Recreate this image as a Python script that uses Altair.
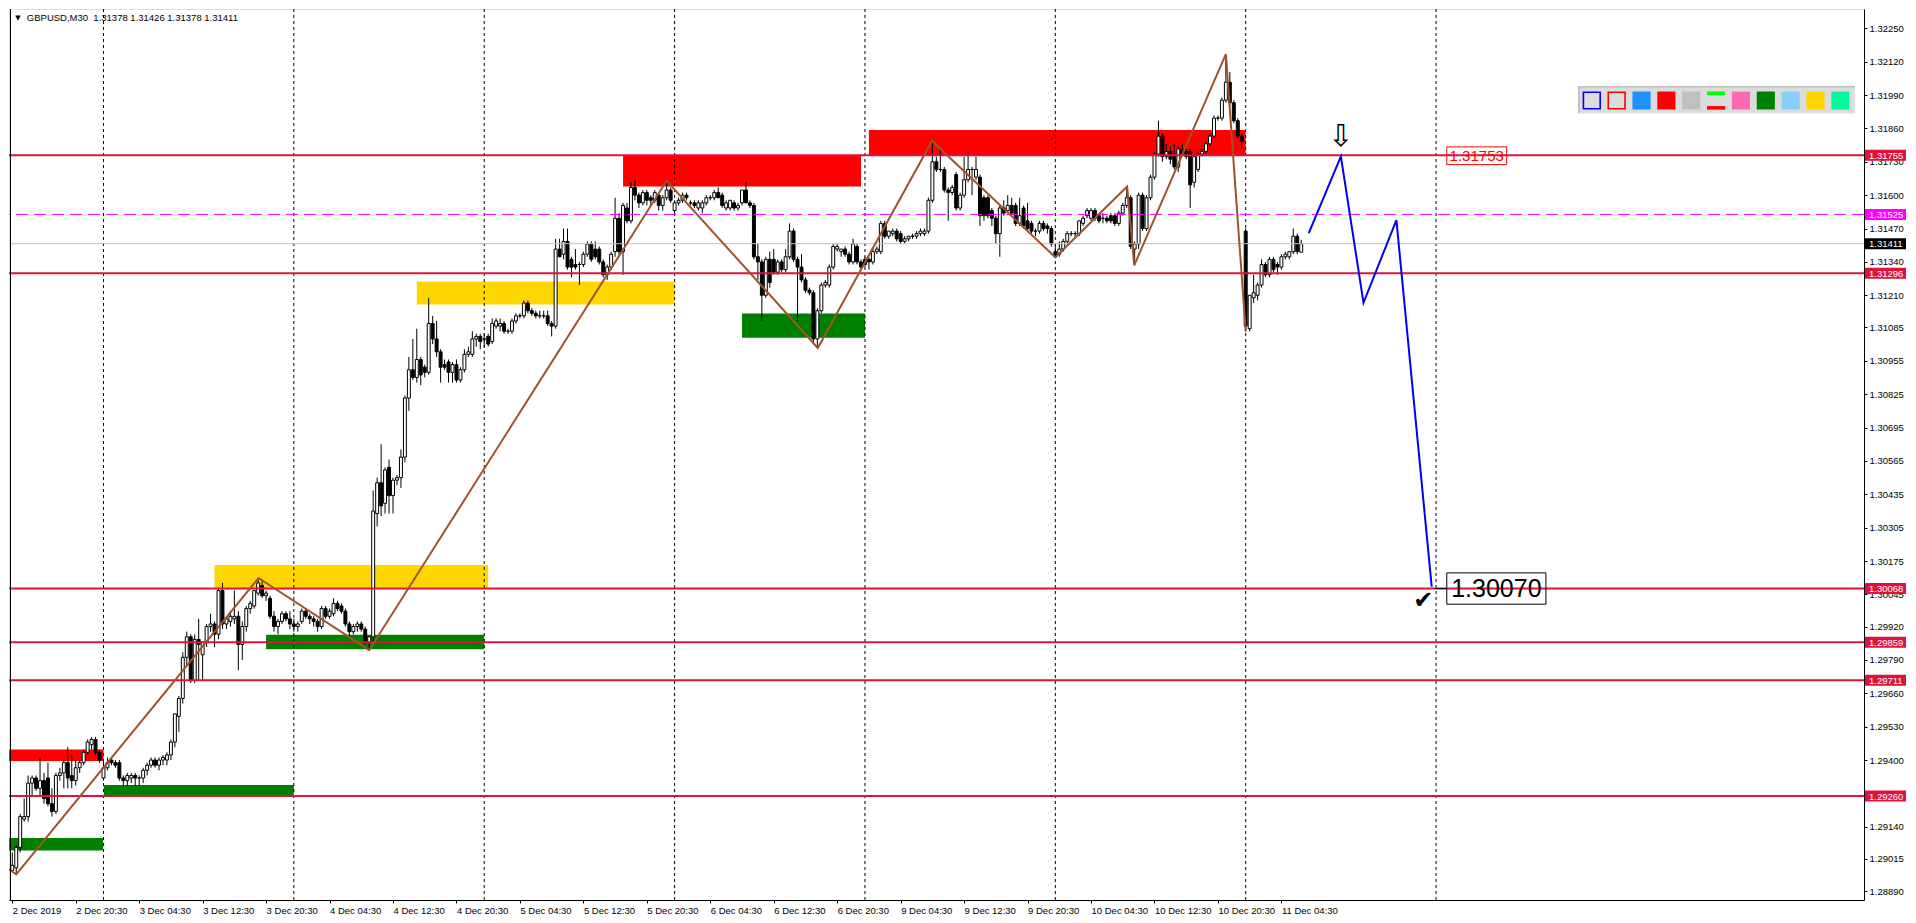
import altair as alt
import pandas as pd

# ---------------- data ----------------
OPEN = [
 1.2897,1.2898,1.2906,1.2917,1.2918,1.2931,1.2933,1.2929,1.2932,1.2933,
 1.2923,1.2920,1.2934,1.2935,1.2939,1.2934,1.2932,1.2937,1.2939,1.2943,
 1.2946,1.2948,1.2943,1.2933,1.2937,1.2940,1.2939,1.2939,1.2933,1.2932,
 1.2933,1.2934,1.2933,1.2933,1.2936,1.2938,1.2940,1.2938,1.2940,1.2940,
 1.2942,1.2947,1.2957,1.2964,1.2980,1.2988,1.2971,1.2987,1.2981,1.2986,
 1.2992,1.2993,1.2989,1.3006,1.2993,1.2994,1.2995,1.2996,1.2985,1.2992,
 1.2999,1.3000,1.3005,1.3008,1.3004,1.3003,1.2996,1.2992,1.2994,1.2997,
 1.2995,1.2993,1.2992,1.2994,1.2998,1.2996,1.2995,1.2994,1.2992,1.2999,
 1.2996,1.2997,1.3001,1.3000,1.2998,1.2993,1.2990,1.2992,1.2993,1.2991,
 1.2986,1.2988,1.3036,1.3048,1.3040,1.3054,1.3043,1.3049,1.3050,1.3058,
 1.3081,1.3092,1.3089,1.3096,1.3093,1.3091,1.3110,1.3104,1.3099,1.3094,
 1.3095,1.3091,1.3094,1.3088,1.3092,1.3098,1.3098,1.3104,1.3105,1.3104,
 1.3105,1.3103,1.3109,1.3109,1.3110,1.3107,1.3107,1.3111,1.3113,1.3113,
 1.3118,1.3115,1.3114,1.3113,1.3113,1.3113,1.3110,1.3109,1.3139,1.3137,
 1.3142,1.3135,1.3133,1.3133,1.3133,1.3137,1.3141,1.3139,1.3139,1.3134,
 1.3129,1.3132,1.3138,1.3151,1.3138,1.3155,1.3150,1.3163,1.3160,1.3157,
 1.3161,1.3159,1.3158,1.3160,1.3156,1.3159,1.3162,1.3154,1.3157,1.3158,
 1.3160,1.3157,1.3157,1.3155,1.3155,1.3157,1.3159,1.3159,1.3161,1.3160,
 1.3155,1.3155,1.3157,1.3155,1.3157,1.3162,1.3157,1.3156,1.3136,1.3134,
 1.3121,1.3135,1.3135,1.3130,1.3134,1.3131,1.3136,1.3146,1.3135,1.3132,
 1.3127,1.3123,1.3122,1.3104,1.3115,1.3125,1.3125,1.3132,1.3139,1.3138,
 1.3139,1.3137,1.3134,1.3140,1.3134,1.3135,1.3135,1.3134,1.3138,1.3138,
 1.3149,1.3144,1.3145,1.3146,1.3145,1.3142,1.3143,1.3144,1.3144,1.3145,
 1.3145,1.3146,1.3158,1.3173,1.3170,1.3170,1.3162,1.3161,1.3168,1.3155,
 1.3160,1.3166,1.3170,1.3167,1.3167,1.3159,1.3159,1.3154,1.3151,1.3145,
 1.3155,1.3154,1.3156,1.3156,1.3149,1.3155,1.3150,1.3149,1.3146,1.3146,
 1.3149,1.3148,1.3147,1.3138,1.3137,1.3139,1.3142,1.3145,1.3145,1.3145,
 1.3149,1.3152,1.3151,1.3154,1.3152,1.3151,1.3151,1.3152,1.3152,1.3149,
 1.3153,1.3156,1.3159,1.3139,1.3141,1.3160,1.3147,1.3159,1.3167,1.3176,
 1.3183,1.3175,1.3177,1.3176,1.3171,1.3178,1.3177,1.3177,1.3165,1.3170,
 1.3176,1.3177,1.3180,1.3183,1.3190,1.3190,1.3197,1.3204,1.3196,1.3189,
 1.3183,1.3146,1.3108,1.3120,1.3121,1.3125,1.3133,1.3129,1.3135,1.3133,
 1.3132,1.3136,1.3136,1.3138,1.3144,1.31378]
HIGH = [
 1.2904,1.2907,1.2919,1.2925,1.2934,1.2934,1.2934,1.2941,1.2935,1.2939,
 1.2929,1.2935,1.2937,1.2940,1.2945,1.2942,1.2940,1.2940,1.2944,1.2948,
 1.2949,1.2949,1.2944,1.2940,1.2941,1.2941,1.2940,1.2940,1.2934,1.2935,
 1.2935,1.2935,1.2934,1.2937,1.2939,1.2941,1.2941,1.2941,1.2942,1.2943,
 1.2948,1.2958,1.2965,1.2982,1.2990,1.2989,1.2989,1.2995,1.2986,1.2993,
 1.2997,1.2994,1.3007,1.3009,1.2996,1.2998,1.3006,1.2998,1.2994,1.3000,
 1.3002,1.3006,1.30109,1.3010,1.3006,1.3004,1.2998,1.2995,1.2998,1.2998,
 1.2998,1.2995,1.2994,1.2999,1.2999,1.2997,1.2996,1.2995,1.3000,1.3000,
 1.2999,1.3003,1.3002,1.3001,1.2999,1.2994,1.2993,1.2994,1.2994,1.2992,
 1.2988,1.3045,1.3050,1.3063,1.3054,1.3057,1.3050,1.3051,1.3061,1.3082,
 1.3097,1.3104,1.3108,1.3097,1.3094,1.3120,1.3113,1.3111,1.3100,1.3096,
 1.3096,1.3095,1.3096,1.3093,1.3100,1.3101,1.3107,1.3106,1.3106,1.3106,
 1.3106,1.3112,1.3112,1.3112,1.3111,1.3108,1.3112,1.3114,1.3114,1.3119,
 1.3119,1.3116,1.3115,1.3115,1.3115,1.3115,1.3111,1.3143,1.3143,1.3147,
 1.3147,1.3136,1.3139,1.3134,1.3138,1.3142,1.3142,1.3142,1.3140,1.3135,
 1.3133,1.3138,1.3159,1.3153,1.3157,1.3157,1.3165,1.3166,1.3161,1.3162,
 1.3162,1.3160,1.3162,1.3161,1.3160,1.31656,1.3163,1.3158,1.3159,1.3161,
 1.3161,1.3158,1.3158,1.3158,1.3158,1.3160,1.3160,1.3162,1.3163,1.3161,
 1.3158,1.3158,1.3158,1.3157,1.3162,1.3165,1.3158,1.3157,1.3141,1.3135,
 1.3136,1.3138,1.3139,1.3135,1.3135,1.3139,1.3149,1.3147,1.3136,1.3137,
 1.3128,1.3124,1.3123,1.3116,1.3126,1.3127,1.3133,1.3141,1.3141,1.3139,
 1.3140,1.3138,1.3143,1.3141,1.3135,1.3136,1.3136,1.3139,1.3140,1.3150,
 1.3150,1.3146,1.3147,1.3147,1.3146,1.3144,1.3144,1.3145,1.3146,1.3147,
 1.3147,1.3159,1.31811,1.3175,1.3178,1.3171,1.3163,1.3164,1.3169,1.3161,
 1.3175,1.3177,1.3171,1.3175,1.3168,1.3160,1.3160,1.3155,1.3152,1.3156,
 1.3158,1.3160,1.3159,1.3157,1.3159,1.3156,1.3157,1.3150,1.3147,1.3150,
 1.3150,1.3149,1.3148,1.3141,1.3142,1.3143,1.3146,1.3146,1.3146,1.3150,
 1.3152,1.3155,1.3155,1.3155,1.3153,1.3153,1.3152,1.3153,1.3153,1.3154,
 1.3157,1.31634,1.3160,1.3142,1.3161,1.3161,1.3160,1.3168,1.3177,1.3189,
 1.3184,1.3180,1.3179,1.3180,1.3179,1.3180,1.3178,1.3178,1.3176,1.3177,
 1.3178,1.3181,1.3184,1.3191,1.3191,1.3198,1.32149,1.3208,1.3197,1.3190,
 1.3184,1.3147,1.3121,1.3129,1.3126,1.3135,1.3134,1.3136,1.3136,1.3134,
 1.3137,1.3138,1.3138,1.3147,1.3145,1.31426]
LOW = [
 1.28966,1.28955,1.2904,1.2916,1.2916,1.2926,1.2928,1.2926,1.2923,1.2922,
 1.2918,1.2919,1.2932,1.2929,1.2929,1.2929,1.2930,1.2935,1.2938,1.2942,
 1.2944,1.2942,1.2939,1.2932,1.2936,1.2938,1.2937,1.2932,1.2930,1.2930,
 1.2931,1.2930,1.2930,1.2931,1.2934,1.2937,1.2937,1.2936,1.2938,1.2938,
 1.2940,1.2945,1.2951,1.2962,1.2977,1.2970,1.2970,1.2971,1.2971,1.2984,
 1.2990,1.2984,1.2987,1.2991,1.2991,1.2992,1.2993,1.2975,1.2979,1.2990,
 1.2997,1.2999,1.3004,1.3003,1.3002,1.2995,1.2990,1.2989,1.2993,1.2994,
 1.2991,1.2990,1.2990,1.2993,1.2995,1.2993,1.2992,1.2990,1.2991,1.2995,
 1.2995,1.2996,1.2998,1.2997,1.2992,1.2988,1.2989,1.2990,1.2990,1.2985,
 1.29828,1.2986,1.3031,1.3035,1.3036,1.3036,1.3036,1.3047,1.3046,1.3056,
 1.3076,1.3088,1.3087,1.3086,1.3089,1.3090,1.3102,1.3097,1.3087,1.3092,
 1.3087,1.3087,1.3087,1.3087,1.3091,1.3097,1.3097,1.3101,1.3100,1.3101,
 1.3101,1.3102,1.3108,1.3107,1.3106,1.3106,1.3106,1.3110,1.3112,1.3112,
 1.3114,1.3113,1.3112,1.3112,1.3112,1.3109,1.3105,1.3108,1.3136,1.3135,
 1.3131,1.3128,1.3131,1.3125,1.3132,1.3136,1.3134,1.3135,1.3133,1.3128,
 1.3127,1.3131,1.3136,1.3136,1.3129,1.3149,1.3149,1.3158,1.3155,1.3156,
 1.3156,1.3156,1.3157,1.3154,1.3154,1.3158,1.3157,1.3153,1.3156,1.3157,
 1.3158,1.3156,1.3155,1.3154,1.3153,1.3156,1.3158,1.3158,1.3159,1.3155,
 1.3154,1.3154,1.3154,1.3154,1.3156,1.3157,1.3155,1.3135,1.3127,1.3111,
 1.3120,1.3124,1.3129,1.3129,1.3130,1.3130,1.3135,1.3134,1.3111,1.3126,
 1.3122,1.3121,1.3102,1.31005,1.3114,1.3124,1.3124,1.3131,1.3138,1.3136,
 1.3136,1.3133,1.3133,1.3133,1.3131,1.3132,1.3131,1.3133,1.3137,1.3137,
 1.3143,1.3143,1.3144,1.3142,1.3141,1.3141,1.3142,1.3143,1.3143,1.3144,
 1.3144,1.3145,1.3157,1.3169,1.3169,1.3161,1.3150,1.3160,1.3154,1.3154,
 1.3159,1.3165,1.3160,1.3166,1.3148,1.3150,1.3151,1.3148,1.3141,1.3136,
 1.3152,1.3153,1.3152,1.3148,1.3148,1.3147,1.3146,1.3145,1.3144,1.3145,
 1.3146,1.3145,1.3140,1.31358,1.3136,1.3138,1.3141,1.3144,1.3143,1.3144,
 1.3148,1.3151,1.3150,1.3150,1.3149,1.3149,1.3149,1.3149,1.3148,1.3148,
 1.3152,1.3155,1.3139,1.31327,1.3139,1.3146,1.3146,1.3158,1.3166,1.3175,
 1.3173,1.3174,1.3172,1.3170,1.3169,1.3175,1.3174,1.3155,1.3163,1.3169,
 1.3175,1.3176,1.3179,1.3182,1.3189,1.3189,1.3196,1.3195,1.3188,1.3182,
 1.3178,1.31069,1.3107,1.3118,1.3119,1.3124,1.3128,1.3128,1.3130,1.3129,
 1.3131,1.3135,1.3135,1.3137,1.3137,1.31378]
CLOSE = [
 1.2899,1.2906,1.2918,1.2918,1.2931,1.2933,1.2929,1.2932,1.2925,1.2923,
 1.2920,1.2934,1.2935,1.2939,1.2933,1.2932,1.2937,1.2939,1.2943,1.2947,
 1.2948,1.2943,1.2940,1.2937,1.2939,1.2939,1.2938,1.2933,1.2932,1.2934,
 1.2934,1.2933,1.2933,1.2936,1.2938,1.2940,1.2938,1.2940,1.2941,1.2942,
 1.2947,1.2958,1.2964,1.2980,1.2988,1.2971,1.2987,1.2985,1.2986,1.2992,
 1.2993,1.2989,1.3006,1.2993,1.2995,1.2996,1.2996,1.2985,1.2992,1.2999,
 1.3001,1.3006,1.3009,1.3004,1.3005,1.2996,1.2992,1.2994,1.2997,1.2995,
 1.2993,1.2992,1.2993,1.2998,1.2996,1.2995,1.2994,1.2992,1.2999,1.2996,
 1.2998,1.3001,1.2999,1.2998,1.2993,1.2990,1.2992,1.2993,1.2991,1.2986,
 1.2988,1.3037,1.3048,1.3039,1.3053,1.3043,1.3049,1.3050,1.3058,1.3081,
 1.3092,1.3089,1.3096,1.3090,1.3091,1.3110,1.3104,1.3099,1.3093,1.3093,
 1.3091,1.3094,1.3088,1.3092,1.3098,1.3099,1.3104,1.3105,1.3103,1.3104,
 1.3102,1.3110,1.3111,1.3110,1.3107,1.3107,1.3111,1.3113,1.3113,1.3118,
 1.3115,1.3114,1.3113,1.3113,1.3113,1.3110,1.3109,1.3139,1.3136,1.3142,
 1.3132,1.3132,1.3132,1.3133,1.3137,1.3141,1.3135,1.3136,1.3134,1.3129,
 1.3132,1.3137,1.3151,1.3138,1.3156,1.3150,1.3163,1.3160,1.3157,1.3161,
 1.3158,1.3158,1.3161,1.3156,1.3159,1.3162,1.3158,1.3157,1.3158,1.3160,
 1.3159,1.3157,1.3156,1.3157,1.3157,1.3159,1.3159,1.3161,1.3159,1.3156,
 1.3157,1.3158,1.3155,1.3156,1.3162,1.3157,1.3156,1.3136,1.3134,1.3121,
 1.3135,1.3126,1.3130,1.3134,1.3131,1.3136,1.3146,1.3135,1.3132,1.3127,
 1.3123,1.3122,1.3104,1.3115,1.3125,1.3126,1.3132,1.3140,1.3140,1.3139,
 1.3137,1.3134,1.3141,1.3134,1.3132,1.3133,1.3134,1.3138,1.3139,1.3149,
 1.3144,1.3146,1.3146,1.3143,1.3142,1.3143,1.3144,1.3144,1.3145,1.3146,
 1.3146,1.3158,1.3173,1.3170,1.3170,1.3162,1.3161,1.3163,1.3155,1.3160,
 1.3166,1.3170,1.3170,1.3170,1.3152,1.3152,1.3152,1.3151,1.3145,1.3155,
 1.3153,1.3156,1.3153,1.3149,1.3152,1.3148,1.3147,1.3146,1.3146,1.3149,
 1.3147,1.3147,1.3141,1.3136,1.3139,1.3142,1.3145,1.3145,1.3145,1.3150,
 1.3151,1.3154,1.3154,1.3151,1.3150,1.3151,1.3150,1.3150,1.3149,1.3153,
 1.3156,1.3159,1.3140,1.3141,1.3160,1.3147,1.3159,1.3167,1.3176,1.3183,
 1.3175,1.3177,1.3174,1.3171,1.3178,1.3176,1.3175,1.3164,1.3175,1.3176,
 1.3177,1.3180,1.3183,1.3190,1.3190,1.3197,1.3204,1.3196,1.3189,1.3183,
 1.3181,1.3109,1.3121,1.3122,1.3125,1.3133,1.3129,1.3135,1.3131,1.3132,
 1.3136,1.3137,1.3138,1.3144,1.3138,1.31411]

X_LABELS = ['2 Dec 2019', '2 Dec 20:30', '3 Dec 04:30', '3 Dec 12:30', '3 Dec 20:30',
            '4 Dec 04:30', '4 Dec 12:30', '4 Dec 20:30', '5 Dec 04:30', '5 Dec 12:30',
            '5 Dec 20:30', '6 Dec 04:30', '6 Dec 12:30', '6 Dec 20:30', '9 Dec 04:30',
            '9 Dec 12:30', '9 Dec 20:30', '10 Dec 04:30', '10 Dec 12:30', '10 Dec 20:30',
            '11 Dec 04:30']
BARS_PER_LABEL = 16
GRID_BARS = [23, 71, 119, 167, 215, 263, 311, 359]
Y_TICKS = [1.32250, 1.32120, 1.31990, 1.31860, 1.31730, 1.31600, 1.31470, 1.31340,
           1.31210, 1.31085, 1.30955, 1.30825, 1.30695, 1.30565, 1.30435, 1.30305,
           1.30175, 1.30045, 1.29920, 1.29790, 1.29660, 1.29530, 1.29400,
           1.29140, 1.29015, 1.28890]

RED_LEVELS = [1.31755, 1.31296, 1.30068, 1.29859, 1.29711, 1.29260]
MAGENTA_LEVELS = [1.31525]
BID_LEVELS = [1.31411]

ZONE_X0 = [-0.8, -0.8, 23.1, 51, 64, 102, 154, 184, 216]
ZONE_X1 = [22.9, 23, 71, 120, 119, 167, 214, 215, 311]
ZONE_LO = [1.29048, 1.29396, 1.29262, 1.30071, 1.29832, 1.31174, 1.31634, 1.31045, 1.31755]
ZONE_HI = [1.29096, 1.29441, 1.29303, 1.30160, 1.29888, 1.31264, 1.31755, 1.31139, 1.31854]
ZONE_COLOR = ['#008000', '#FF0000', '#008000', '#FFD700', '#008000', '#FFD700',
              '#FF0000', '#008000', '#FF0000']

ZZ_X = [-0.8, 1, 62.1, 90, 165, 203.1, 231.9, 263, 281.1, 282.9, 306, 311]
ZZ_P = [1.28975, 1.28955, 1.30109, 1.29828, 1.31656, 1.31005, 1.31811, 1.31358,
        1.31634, 1.31327, 1.32149, 1.31069]

FC_X = [326.9, 335, 340.7, 349, 357.9]
FC_P = [1.31452, 1.31751, 1.31181, 1.31503, 1.30075]

TAG_PRICES = [1.31755, 1.31525, 1.31411, 1.31296, 1.30068, 1.29859, 1.29711, 1.29260]
TAG_COLORS = ['#DC143C', '#FF00FF', '#000000', '#DC143C', '#DC143C', '#DC143C',
              '#DC143C', '#DC143C']

TARGET_TEXT = ['1.30070']
TARGET_BOX = [361.7, 386.7, 1.30007, 1.30129]
LEVEL_TEXT = ['1.31753']
LEVEL_BOX = [361.7, 376.8, 1.31719, 1.31788]
ARROW_POS = [335, 1.31828]
CHECK_POS = [355.8, 1.30018]
CONNECT = [358.7, 361.7, 1.30068]

TOOLBAR = ['outline:#0000FF', 'outline:#FF0000', '#1E90FF', '#FF0000', '#C0C0C0',
           'lines:#00FF00:#FF0000', '#FF69B4', '#008000', '#87CEFA', '#FFD700', '#00FA9A']

# ---------------- layout ----------------
W, H = 1855, 891
REF_W, REF_H = 1871, 907
XD = [-0.825, 466.9]
YD = [1.28855, 1.32325]
FONT = 'Liberation Sans'
FS = 9.5

xs = alt.Scale(domain=XD, nice=False, zero=False)
ys = alt.Scale(domain=YD, nice=False, zero=False)

label_expr = '[' + ','.join("'%s'" % s for s in X_LABELS) + '][round(datum.value/%d)]' % BARS_PER_LABEL
xaxis = alt.Axis(values=[k * BARS_PER_LABEL for k in range(len(X_LABELS))], labelExpr=label_expr,
                 labelAlign='left', labelPadding=2, tickSize=3, tickColor='black',
                 domainColor='black', labelColor='black', labelFont=FONT, labelFontSize=FS,
                 grid=False, title=None, orient='bottom', labelFlush=False, labelOverlap=False,
                 labelBaseline='top')
yaxis = alt.Axis(values=Y_TICKS, format='.5f', orient='right', tickSize=3, tickColor='black',
                 domainColor='black', labelColor='black', labelFont=FONT, labelFontSize=FS,
                 labelPadding=2, grid=False, title=None, labelFlush=False, labelOverlap=False)


def X(f):
    return alt.X(f, type='quantitative', scale=xs, axis=xaxis)


def Y(f):
    return alt.Y(f, type='quantitative', scale=ys, axis=yaxis)


def xv(v):
    return alt.value(v * W / REF_W)


def yv(v):
    return alt.value(v * H / REF_H)


one = pd.DataFrame({'k': [0]})


def prect(x0, x1, y0, y1, **kw):
    return alt.Chart(one).mark_rect(**kw).encode(x=xv(x0), x2=xv(x1), y=yv(y0), y2=yv(y1))


# ---------------- frames ----------------
n = len(CLOSE)
cdf = pd.DataFrame({'i': list(range(n)), 'o': OPEN[:n], 'h': HIGH[:n], 'l': LOW[:n], 'c': CLOSE[:n]})
cdf['bl'] = cdf[['o', 'c']].min(axis=1)
cdf['bh'] = cdf[['o', 'c']].max(axis=1)
cdf['x0'] = cdf['i'] - 0.37
cdf['x1'] = cdf['i'] + 0.37

zdf = pd.DataFrame({'x0': ZONE_X0, 'x1': ZONE_X1, 'lo': ZONE_LO, 'hi': ZONE_HI, 'col': ZONE_COLOR})

layers = []
layers.append(alt.Chart(zdf).mark_rect(clip=True).encode(
    x=X('x0'), x2='x1', y=Y('lo'), y2='hi', color=alt.Color('col:N', scale=None)))
layers.append(alt.Chart(pd.DataFrame({'g': GRID_BARS})).mark_rule(
    color='black', strokeWidth=1, strokeDash=[3, 3]).encode(x=X('g')))
layers.append(alt.Chart(cdf).mark_rule(color='black', strokeWidth=1).encode(
    x=X('i'), y=Y('l'), y2='h'))
layers.append(alt.Chart(cdf).mark_rect(stroke='black', strokeWidth=1).encode(
    x=X('x0'), x2='x1', y=Y('bl'), y2='bh',
    fill=alt.condition('datum.c >= datum.o', alt.value('white'), alt.value('black'))))
layers.append(alt.Chart(pd.DataFrame({'p': RED_LEVELS})).mark_rule(
    color='#DC143C', strokeWidth=2).encode(y=Y('p')))
layers.append(alt.Chart(pd.DataFrame({'p': MAGENTA_LEVELS})).mark_rule(
    color='#FF00FF', strokeWidth=1, strokeDash=[12, 6]).encode(y=Y('p')))
layers.append(alt.Chart(pd.DataFrame({'p': BID_LEVELS})).mark_rule(
    color='#C0C0C0', strokeWidth=1).encode(y=Y('p')))
layers.append(alt.Chart(pd.DataFrame({'x': ZZ_X, 'p': ZZ_P, 'k': list(range(len(ZZ_X)))})).mark_line(
    color='#A0522D', strokeWidth=2, clip=True).encode(x=X('x'), y=Y('p'), order='k:Q'))
layers.append(alt.Chart(pd.DataFrame({'x': FC_X, 'p': FC_P, 'k': list(range(len(FC_X)))})).mark_line(
    color='#0000FF', strokeWidth=2).encode(x=X('x'), y=Y('p'), order='k:Q'))

# annotations
layers.append(alt.Chart(pd.DataFrame({'x': [ARROW_POS[0]], 'p': [ARROW_POS[1]]})).mark_text(
    text='\u21e9', font='DejaVu Sans', fontSize=30, color='black', baseline='middle').encode(
    x=X('x'), y=Y('p')))
layers.append(alt.Chart(pd.DataFrame({'x': [CHECK_POS[0]], 'p': [CHECK_POS[1]]})).mark_text(
    text='\u2714', font='DejaVu Sans', fontSize=24, color='black', baseline='middle').encode(
    x=X('x'), y=Y('p')))
layers.append(alt.Chart(pd.DataFrame({'x0': [CONNECT[0]], 'x1': [CONNECT[1]], 'p': [CONNECT[2]]})).mark_rule(
    color='black', strokeWidth=1).encode(x=X('x0'), x2='x1', y=Y('p')))
layers.append(alt.Chart(pd.DataFrame({'x0': [TARGET_BOX[0]], 'x1': [TARGET_BOX[1]],
                                      'lo': [TARGET_BOX[2]], 'hi': [TARGET_BOX[3]]})).mark_rect(
    fillOpacity=0, stroke='black', strokeWidth=1).encode(x=X('x0'), x2='x1', y=Y('lo'), y2='hi'))
layers.append(alt.Chart(pd.DataFrame({'x': [(TARGET_BOX[0] + TARGET_BOX[1]) / 2],
                                      'p': [(TARGET_BOX[2] + TARGET_BOX[3]) / 2], 't': TARGET_TEXT})).mark_text(
    font=FONT, fontSize=25, color='black', baseline='middle', align='center').encode(
    x=X('x'), y=Y('p'), text='t:N'))
layers.append(alt.Chart(pd.DataFrame({'x0': [LEVEL_BOX[0]], 'x1': [LEVEL_BOX[1]],
                                      'lo': [LEVEL_BOX[2]], 'hi': [LEVEL_BOX[3]]})).mark_rect(
    fillOpacity=0, stroke='#FF0000', strokeWidth=1).encode(x=X('x0'), x2='x1', y=Y('lo'), y2='hi'))
layers.append(alt.Chart(pd.DataFrame({'x': [(LEVEL_BOX[0] + LEVEL_BOX[1]) / 2],
                                      'p': [(LEVEL_BOX[2] + LEVEL_BOX[3]) / 2], 't': LEVEL_TEXT})).mark_text(
    font=FONT, fontSize=15, color='#FF0000', baseline='middle', align='center').encode(
    x=X('x'), y=Y('p'), text='t:N'))

# left frame line
layers.append(alt.Chart(one).mark_rule(color='black', strokeWidth=1).encode(
    x=alt.value(1.5), y=alt.value(0), y2=alt.value(H)))

# price tags on the right scale
tdf = pd.DataFrame({'p': TAG_PRICES, 'col': TAG_COLORS,
                    't': ['%.5f' % p for p in TAG_PRICES]})
layers.append(alt.Chart(tdf).mark_rect(yOffset=5.5, y2Offset=-5.5, clip=False).encode(
    x=alt.value(W + 1), x2=alt.value(W + 42), y=Y('p'), y2='p',
    color=alt.Color('col:N', scale=None)))
layers.append(alt.Chart(tdf).mark_text(font=FONT, fontSize=FS, color='white', align='left',
                                        baseline='middle', dy=0.5).encode(
    x=alt.value(W + 5), y=Y('p'), text='t:N'))

# toolbar panel (top right)
layers.append(prect(1582.7, 1861.7, 78.3, 106.7, fill='#DCDCDC'))
layers.append(prect(1582.7, 1861.7, 78.3, 80.0, fill='#BEBEBE'))
layers.append(prect(1582.7, 1584.4, 78.3, 106.7, fill='#BEBEBE'))
layers.append(prect(1582.7, 1861.7, 105.5, 106.7, fill='#F4F4F4'))
for k, item in enumerate(TOOLBAR):
    x0 = 1587.3 + 25.07 * k
    x1 = x0 + 18.3
    if item.startswith('outline:'):
        layers.append(prect(x0 + 0.7, x1 - 0.7, 84.7, 101.6, fillOpacity=0,
                            stroke=item.split(':')[1], strokeWidth=1.6))
    elif item.startswith('lines:'):
        _, c1, c2 = item.split(':')
        layers.append(prect(x0, x1, 84.0, 87.7, fill=c1))
        layers.append(prect(x0, x1, 98.8, 102.4, fill=c2))
    else:
        layers.append(prect(x0, x1, 84.0, 102.3, fill=item))

# chart caption top-left
title_text = 'GBPUSD,M30\u00a0 %.5f %.5f %.5f %.5f' % (OPEN[-1], HIGH[-1], LOW[-1], CLOSE[-1])
layers.append(alt.Chart(one).mark_text(text='\u25bc', font='DejaVu Sans', fontSize=7,
                                       color='black', align='center', baseline='middle').encode(
    x=xv(9), y=yv(9.5)))
layers.append(alt.Chart(one).mark_text(text=title_text, font=FONT, fontSize=FS, color='black',
                                       align='left', baseline='middle').encode(
    x=xv(18), y=yv(9.5)))

chart = alt.layer(*layers).properties(
    width=W, height=H, padding={'left': 0, 'top': 0, 'right': 0, 'bottom': 0}
).configure_view(stroke=None).configure(background='white')

chart.save('out.html', embed_options={'renderer': 'svg', 'actions': False})
